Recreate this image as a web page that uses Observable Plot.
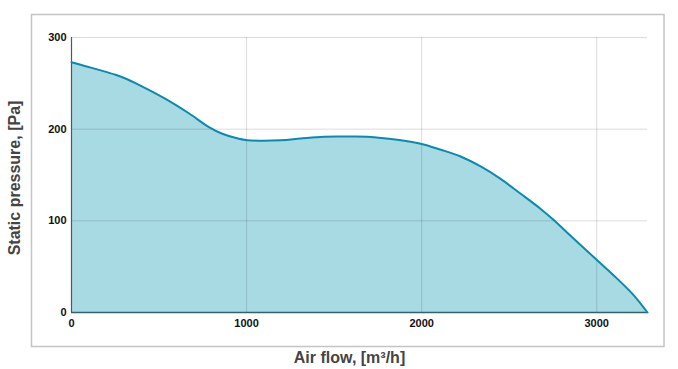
<!DOCTYPE html>
<html>
<head>
<meta charset="utf-8">
<script src="https://cdn.jsdelivr.net/npm/d3@7"></script>
<script src="https://cdn.jsdelivr.net/npm/@observablehq/plot@0.6"></script>
<style>
  html, body { margin: 0; padding: 0; background: #fff; }
  svg { display: block; }
</style>
</head>
<body>
<div id="chart"></div>
<script>
const flow = [0, 80, 156, 251, 318, 385, 537, 670, 785, 861, 956, 1004, 1194, 1309, 1442, 1560, 1690, 1861, 1994, 2109, 2223, 2337, 2451, 2566, 2680, 2756, 2832, 2998, 3118, 3213, 3290];
const pressure = [273, 268.7, 264.7, 259.3, 254.5, 248.4, 233.1, 217.4, 202.2, 195, 189.5, 188, 187.8, 189.8, 191.8, 192, 191.8, 188.4, 184, 177.5, 170.2, 159.3, 145.8, 129.5, 113, 100.6, 87, 57.8, 36.7, 18.5, 0];
const xTicks = [0, 1000, 2000, 3000];
const yTicks = [0, 100, 200, 300];
const xTitle = "Air flow, [m³/h]";
const yTitle = "Static pressure, [Pa]";

const data = flow.map((f, i) => ({flow: f, pressure: pressure[i]}));
const font = "Liberation Sans, Arial, sans-serif";

const chart = Plot.plot({
  width: 678,
  height: 369,
  marginLeft: 71,
  marginRight: 31,
  marginTop: 37,
  marginBottom: 57,
  style: {fontFamily: font, background: "#fff", overflow: "visible"},
  x: {domain: [0, 3290]},
  y: {domain: [0, 300]},
  marks: [
    Plot.frame({insetLeft: -40, insetRight: -16.5, insetTop: -23, insetBottom: -34, stroke: "#c4c4c4", strokeWidth: 1.5}),
    Plot.areaY(data, {x: "flow", y: "pressure", fill: "#a8dae4", curve: "catmull-rom"}),
    Plot.gridX(xTicks, {stroke: "#000", strokeOpacity: 0.14}),
    Plot.gridY(yTicks, {stroke: "#000", strokeOpacity: 0.14}),
    Plot.ruleX([0], {stroke: "#555", strokeWidth: 1.2}),
    Plot.ruleY([0], {stroke: "#33626b", strokeWidth: 1.5}),
    Plot.lineY(data, {x: "flow", y: "pressure", stroke: "#0a8bae", strokeWidth: 2, curve: "catmull-rom"}),
    Plot.axisX(xTicks, {tickSize: 0, tickPadding: 7, fontSize: 11, fontWeight: "bold", fill: "#111", label: null, tickFormat: d => String(d)}),
    Plot.axisY(yTicks, {tickSize: 0, tickPadding: 5, fontSize: 11, fontWeight: "bold", fill: "#111", label: null, tickFormat: d => String(d)}),
    Plot.text([xTitle], {frameAnchor: "bottom", dx: -10, dy: 45, text: d => d, fontSize: 16, fontWeight: "bold", fill: "#444", lineAnchor: "middle", textAnchor: "middle"}),
    Plot.text([yTitle], {frameAnchor: "left", dx: -57, dy: 3, rotate: -90, text: d => d, fontSize: 16, fontWeight: "bold", fill: "#444", lineAnchor: "middle", textAnchor: "middle"})
  ]
});
document.getElementById("chart").append(chart);
</script>
</body>
</html>
